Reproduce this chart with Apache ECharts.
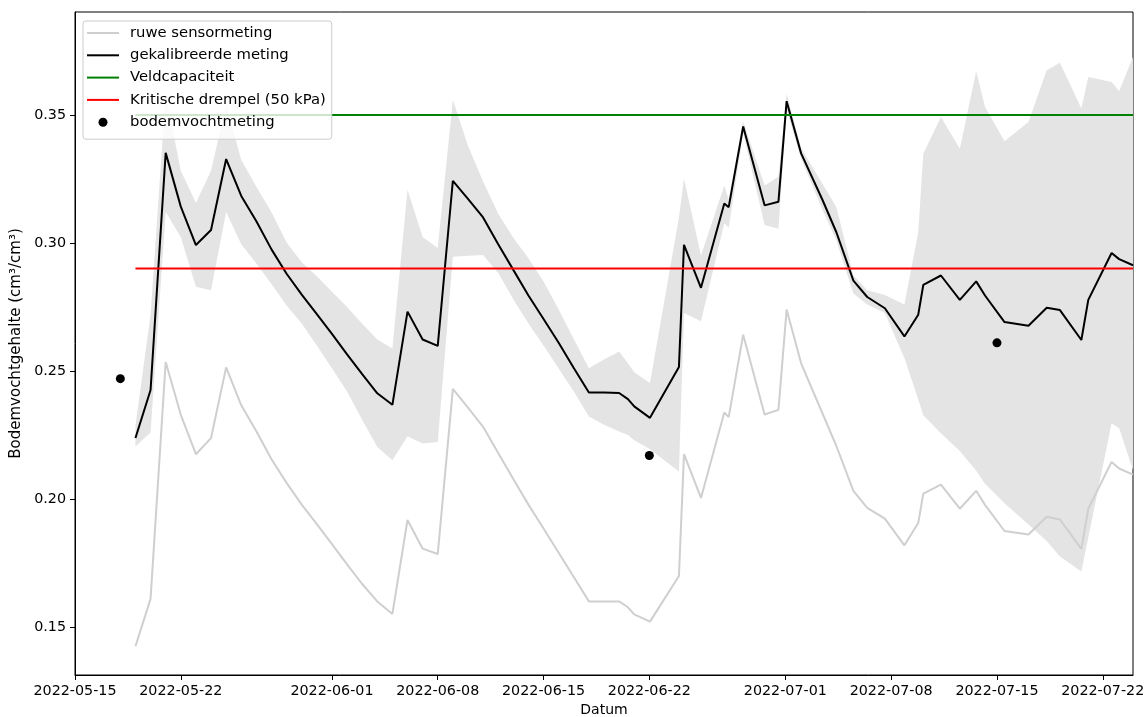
<!DOCTYPE html>
<html>
<head>
<meta charset="utf-8">
<script src="https://cdn.jsdelivr.net/npm/echarts@6/dist/echarts.min.js"></script>
<style>
  html, body { margin: 0; padding: 0; background: #ffffff; }
  #chart { width: 1144px; height: 717px; }
</style>
</head>
<body>
<div id="chart"></div>
<script>
// Measurement times (local time)
const times = [
  '2022-05-19 00:00', '2022-05-20 00:00', '2022-05-21 00:00', '2022-05-22 00:00', '2022-05-23 00:00',
  '2022-05-24 00:00', '2022-05-25 00:00', '2022-05-26 00:00', '2022-05-27 00:00', '2022-05-28 00:00',
  '2022-05-29 00:00', '2022-05-30 00:00', '2022-05-31 00:00', '2022-06-01 00:00', '2022-06-02 00:00',
  '2022-06-03 00:00', '2022-06-04 00:00', '2022-06-05 00:00', '2022-06-06 00:00', '2022-06-07 00:00',
  '2022-06-08 00:00', '2022-06-09 00:00', '2022-06-10 00:00', '2022-06-11 00:00', '2022-06-12 00:00',
  '2022-06-13 00:00', '2022-06-14 00:00', '2022-06-15 00:00', '2022-06-16 00:00', '2022-06-17 00:00',
  '2022-06-18 00:00', '2022-06-19 00:00', '2022-06-20 00:00', '2022-06-20 14:00', '2022-06-21 00:00',
  '2022-06-22 01:00', '2022-06-23 23:00', '2022-06-24 07:00', '2022-06-25 10:00', '2022-06-26 23:00',
  '2022-06-27 06:00', '2022-06-28 05:00', '2022-06-29 15:00', '2022-06-30 13:00', '2022-07-01 02:00',
  '2022-07-02 01:00', '2022-07-03 11:00', '2022-07-04 09:00', '2022-07-05 12:00', '2022-07-06 10:00',
  '2022-07-07 14:00', '2022-07-08 21:00', '2022-07-09 19:00', '2022-07-10 03:00', '2022-07-11 07:00',
  '2022-07-12 13:00', '2022-07-13 15:00', '2022-07-14 05:00', '2022-07-15 12:00', '2022-07-17 02:00',
  '2022-07-18 07:00', '2022-07-19 04:00', '2022-07-20 14:00', '2022-07-21 01:00', '2022-07-22 14:00',
  '2022-07-23 02:00', '2022-07-24 00:00'
];

// Calibrated sensor reading (cm3/cm3)
const calibrated = [
  0.2238, 0.2426, 0.3352, 0.3142, 0.2992, 0.3051, 0.3328, 0.3184, 0.3085, 0.2975,
  0.2880, 0.2798, 0.2722, 0.2645, 0.2565, 0.2488, 0.2413, 0.2368, 0.2732, 0.2623,
  0.2598, 0.3243, 0.3172, 0.3100, 0.2995, 0.2895, 0.2795, 0.2703, 0.2610, 0.2512,
  0.2416, 0.2416, 0.2414, 0.2390, 0.2362, 0.2317, 0.2516, 0.2993, 0.2825, 0.3154,
  0.3140, 0.3455, 0.3147, 0.3161, 0.3554, 0.3350, 0.3168, 0.3042, 0.2853, 0.2789,
  0.2745, 0.2635, 0.2720, 0.2836, 0.2873, 0.2778, 0.2850, 0.2795, 0.2691, 0.2677,
  0.2747, 0.2738, 0.2621, 0.2778, 0.2961, 0.2937, 0.2913
];

// Raw sensor reading (cm3/cm3)
const raw = [
  0.1425, 0.1610, 0.2535, 0.2329, 0.2175, 0.2238, 0.2514, 0.2366, 0.2265, 0.2155,
  0.2063, 0.1978, 0.1902, 0.1824, 0.1745, 0.1668, 0.1600, 0.1551, 0.1918, 0.1806,
  0.1785, 0.2430, 0.2357, 0.2282, 0.2180, 0.2078, 0.1978, 0.1885, 0.1790, 0.1695,
  0.1600, 0.1600, 0.1600, 0.1577, 0.1549, 0.1521, 0.1699, 0.2175, 0.2004, 0.2338,
  0.2320, 0.2642, 0.2330, 0.2348, 0.2740, 0.2530, 0.2334, 0.2207, 0.2032, 0.1965,
  0.1923, 0.1819, 0.1906, 0.2021, 0.2056, 0.1962, 0.2032, 0.1977, 0.1875, 0.1861,
  0.1931, 0.1920, 0.1805, 0.1962, 0.2145, 0.2119, 0.2095
];

// Uncertainty band of the calibrated reading
const bandLow = [
  0.2205, 0.2260, 0.3121, 0.3023, 0.2829, 0.2815, 0.3121, 0.2995, 0.2920, 0.2840,
  0.2756, 0.2686, 0.2600, 0.2511, 0.2420, 0.2310, 0.2203, 0.2151, 0.2245, 0.2217,
  0.2223, 0.2946, 0.2950, 0.2953, 0.2883, 0.2780, 0.2686, 0.2600, 0.2510, 0.2420,
  0.2322, 0.2290, 0.2264, 0.2250, 0.2229, 0.2194, 0.2107, 0.2727, 0.2694, 0.3077,
  0.3060, 0.3430, 0.3070, 0.3056, 0.3520, 0.3330, 0.3130, 0.3010, 0.2803, 0.2760,
  0.2727, 0.2551, 0.2390, 0.2327, 0.2257, 0.2187, 0.2110, 0.2060, 0.1983, 0.1900,
  0.1836, 0.1775, 0.1717, 0.1850, 0.2296, 0.2276, 0.2113
];
const bandHigh = [
  0.2286, 0.2720, 0.3580, 0.3282, 0.3156, 0.3282, 0.3540, 0.3324, 0.3220, 0.3120,
  0.3002, 0.2925, 0.2870, 0.2810, 0.2750, 0.2685, 0.2623, 0.2588, 0.3208, 0.3023,
  0.2980, 0.3559, 0.3380, 0.3240, 0.3114, 0.3020, 0.2940, 0.2850, 0.2740, 0.2625,
  0.2511, 0.2545, 0.2576, 0.2530, 0.2495, 0.2453, 0.3100, 0.3252, 0.2951, 0.3225,
  0.3170, 0.3475, 0.3225, 0.3259, 0.3583, 0.3370, 0.3230, 0.3140, 0.2873, 0.2815,
  0.2797, 0.2760, 0.3043, 0.3349, 0.3492, 0.3368, 0.3671, 0.3531, 0.3397, 0.3473,
  0.3675, 0.3704, 0.3525, 0.3648, 0.3629, 0.3593, 0.3727
];

// Field samples (soil moisture measurement)
const sampleDates = ['2022-05-18 00:00', '2022-06-22 00:00', '2022-07-15 00:00'];
const sampleValues = [0.247, 0.217, 0.261];

// Reference levels
const fieldCapacity = 0.35;
const criticalThreshold = 0.29;

// Axis ticks
const xTicks = ['2022-05-15', '2022-05-22', '2022-06-01', '2022-06-08', '2022-06-15',
                '2022-06-22', '2022-07-01', '2022-07-08', '2022-07-15', '2022-07-22'];
const yTicks = [0.15, 0.20, 0.25, 0.30, 0.35];

// Parse "YYYY-MM-DD[ HH:mm]" as local time
function toTime(s) {
  const [d, t] = s.split(' ');
  const [y, m, day] = d.split('-').map(Number);
  const [hh, mm] = (t || '00:00').split(':').map(Number);
  return new Date(y, m - 1, day, hh, mm).getTime();
}
function pad(n) { return n < 10 ? '0' + n : '' + n; }
function fmtDate(v) {
  const d = new Date(Math.round(v));
  return d.getFullYear() + '-' + pad(d.getMonth() + 1) + '-' + pad(d.getDate());
}

const T = times.map(toTime);
const font = 'DejaVu Sans';
const xMin = toTime('2022-05-15 00:00');
const xMax = toTime('2022-07-24 00:00');
const tStart = T[0];
const tEnd = T[T.length - 1];
// flat bar used as the legend handle of line series
const lineHandle = 'path://M0,0H32V2H0Z';

const chart = echarts.init(document.getElementById('chart'), null, { renderer: 'canvas' });

chart.setOption({
  animation: false,
  backgroundColor: '#ffffff',
  grid: {
    left: 75, right: 11, top: 12, bottom: 42,
    show: true, borderColor: '#000000', borderWidth: 1,
    outerBoundsMode: 'none'
  },
  legend: {
    orient: 'vertical', left: 83, top: 21, z: 10,
    padding: [4, 6, 9, 4],
    itemWidth: 32, itemHeight: 9, itemGap: 6.3,
    backgroundColor: 'rgba(255,255,255,0.8)',
    borderColor: '#cccccc', borderWidth: 1, borderRadius: 3,
    selectedMode: false,
    textStyle: { fontFamily: font, fontSize: 14.8, color: '#000000', lineHeight: 16, padding: [0, 0, 0, 6] },
    data: [
      { name: 'ruwe sensormeting', icon: lineHandle },
      { name: 'gekalibreerde meting', icon: lineHandle },
      { name: 'Veldcapaciteit', icon: lineHandle },
      { name: 'Kritische drempel (50 kPa)', icon: lineHandle },
      { name: 'bodemvochtmeting', icon: 'circle' }
    ]
  },
  xAxis: {
    type: 'value', min: xMin, max: xMax, scale: true,
    name: 'Datum', nameLocation: 'middle', nameGap: 28,
    nameTextStyle: { fontFamily: font, fontSize: 14, color: '#000000' },
    axisLine: { show: true, lineStyle: { color: '#000000', width: 1 } },
    axisTick: { show: true, length: 5, lineStyle: { color: '#000000' },
                customValues: xTicks.map(toTime) },
    axisLabel: { fontFamily: font, fontSize: 14.3, color: '#000000', margin: 9,
                 customValues: xTicks.map(toTime), formatter: fmtDate },
    splitLine: { show: false }
  },
  yAxis: {
    type: 'value', min: 0.13125, max: 0.39023,
    name: 'Bodemvochtgehalte (cm³/cm³)', nameLocation: 'middle', nameGap: 51,
    nameTextStyle: { fontFamily: font, fontSize: 15, color: '#000000' },
    axisLine: { show: true, lineStyle: { color: '#000000', width: 1 } },
    axisTick: { show: true, length: 5, lineStyle: { color: '#000000' }, customValues: yTicks },
    axisLabel: { fontFamily: font, fontSize: 14.3, color: '#000000', margin: 9,
                 customValues: yTicks, formatter: v => v.toFixed(2) },
    splitLine: { show: false }
  },
  series: [
    {
      // uncertainty band of the calibrated reading
      type: 'custom', name: 'band', silent: true, z: 1,
      data: T.map((t, i) => [t, bandLow[i], bandHigh[i]]),
      encode: { x: 0, y: [1, 2] },
      renderItem: function (params, api) {
        if (params.dataIndex !== 0) return null;
        const pts = [];
        for (let i = 0; i < T.length; i++) pts.push(api.coord([T[i], bandHigh[i]]));
        for (let i = T.length - 1; i >= 0; i--) pts.push(api.coord([T[i], bandLow[i]]));
        return { type: 'polygon', shape: { points: pts }, style: { fill: '#e4e4e4' } };
      }
    },
    {
      name: 'ruwe sensormeting', type: 'line', z: 2, symbol: 'none',
      lineStyle: { color: '#cfcfcf', width: 2 }, itemStyle: { color: '#cfcfcf' },
      data: T.map((t, i) => [t, raw[i]])
    },
    {
      name: 'gekalibreerde meting', type: 'line', z: 2, symbol: 'none',
      lineStyle: { color: '#000000', width: 2 }, itemStyle: { color: '#000000' },
      data: T.map((t, i) => [t, calibrated[i]])
    },
    {
      name: 'Veldcapaciteit', type: 'line', z: 2, symbol: 'none',
      lineStyle: { color: '#008000', width: 2 }, itemStyle: { color: '#008000' },
      data: [[tStart, fieldCapacity], [tEnd, fieldCapacity]]
    },
    {
      name: 'Kritische drempel (50 kPa)', type: 'line', z: 2, symbol: 'none',
      lineStyle: { color: '#ff0000', width: 2 }, itemStyle: { color: '#ff0000' },
      data: [[tStart, criticalThreshold], [tEnd, criticalThreshold]]
    },
    {
      name: 'bodemvochtmeting', type: 'scatter', z: 3, symbol: 'circle', symbolSize: 9,
      itemStyle: { color: '#000000', opacity: 1 },
      data: sampleDates.map((d, i) => [toTime(d), sampleValues[i]])
    }
  ]
});
</script>
</body>
</html>
